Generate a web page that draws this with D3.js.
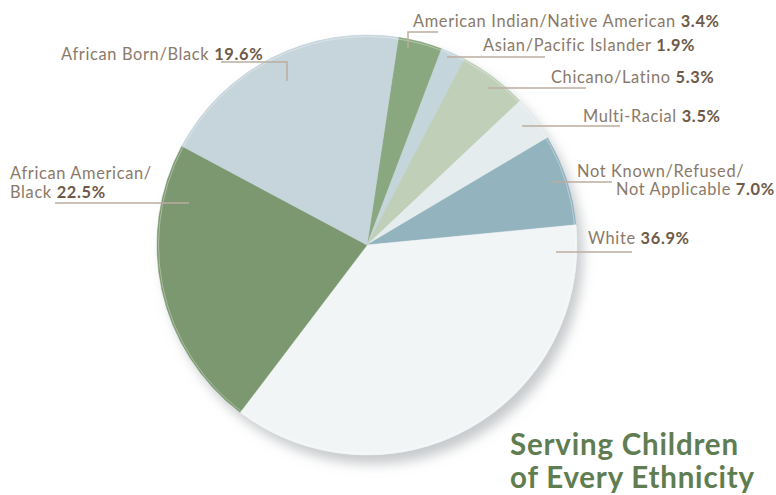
<!DOCTYPE html>
<html>
<head>
<meta charset="utf-8">
<script src="https://cdn.jsdelivr.net/npm/d3@7"></script>
<style>
  body { margin: 0; background: #fff; }
  svg { display: block; }
</style>
</head>
<body>
<svg id="chart"></svg>
<script>
const width = 776
const height = 495

// clockwise from near 12 o'clock
const groups = ["American Indian/Native American", "Asian/Pacific Islander", "Chicano/Latino", "Multi-Racial",
    "Not Known/Refused/Not Applicable", "White", "African American/Black", "African Born/Black"]
const shares = [3.4, 1.9, 5.3, 3.5, 7.0, 36.9, 22.5, 19.6]
const colors = ["#8aa87f", "#c5d5dc", "#bfcfb8", "#e4ecee", "#93b3bf", "#f1f5f6", "#7b9870", "#c6d5dc"]

// label text lines: [normal part, bold part]
const labelLines = [
    [["American Indian/Native American ", "3.4%"]],
    [["Asian/Pacific Islander ", "1.9%"]],
    [["Chicano/Latino ", "5.3%"]],
    [["Multi-Racial ", "3.5%"]],
    [["Not Known/Refused/", ""], ["Not Applicable ", "7.0%"]],
    [["White ", "36.9%"]],
    [["African American/", ""], ["Black ", "22.5%"]],
    [["African Born/Black ", "19.6%"]]
]
// label positions (text anchor + leader line points)
const labelPos = [
    { x: [413], y: [27], line: [[408, 48], [408, 32], [438, 32]] },
    { x: [483], y: [51], line: [[447, 57], [545, 57]] },
    { x: [551], y: [83], line: [[488, 88], [586, 88]] },
    { x: [583], y: [122], line: [[522, 126], [620, 126]] },
    { x: [577, 616], y: [177, 195], line: [[552, 182], [612, 182]] },
    { x: [588], y: [244], line: [[556, 252], [632, 252]] },
    { x: [10, 10], y: [179, 198], line: [[55, 203], [189, 203]] },
    { x: [61], y: [60], line: [[221, 62], [287, 62], [287, 81]] }
]

const cx = 367, cy = 245, r = 210

const svg = d3.select("#chart")
    .attr("width", width)
    .attr("height", height)

const defs = svg.append("defs")
const shadow = defs.append("filter").attr("id", "shadow")
    .attr("x", "-20%").attr("y", "-20%").attr("width", "140%").attr("height", "140%")
shadow.append("feDropShadow")
    .attr("dx", 6).attr("dy", 9)
    .attr("stdDeviation", 6)
    .attr("flood-color", "#9a9ea2")
    .attr("flood-opacity", 0.55)

const pie = d3.pie()
    .sort(null)
    .startAngle(8.6 * Math.PI / 180)
    .endAngle(8.6 * Math.PI / 180 + 2 * Math.PI)
    .value(d => d)

const arc = d3.arc().innerRadius(0).outerRadius(r)

const g = svg.append("g").attr("transform", "translate(" + cx + "," + cy + ")")

g.append("circle")
    .attr("r", r)
    .attr("fill", "#e9eef0")
    .attr("filter", "url(#shadow)")

g.selectAll(".slice")
    .data(pie(shares))
    .enter()
    .append("path")
    .attr("class", "slice")
    .attr("d", arc)
    .attr("fill", (d, i) => colors[i])
    .attr("stroke", (d, i) => colors[i])
    .attr("stroke-width", 0.5)

g.append("circle")
    .attr("r", r - 1.5)
    .attr("fill", "none")
    .attr("stroke", "#ffffff")
    .attr("stroke-opacity", 0.35)
    .attr("stroke-width", 1)

const line = d3.line()
const labels = svg.append("g")

labelPos.forEach(function (p, i) {
    labels.append("path")
        .attr("d", line(p.line))
        .attr("fill", "none")
        .attr("stroke", "#bcad9f")
        .attr("stroke-width", 1.5)
    labelLines[i].forEach(function (parts, j) {
        const t = labels.append("text")
            .attr("x", p.x[j])
            .attr("y", p.y[j])
            .attr("font-family", "Lato, 'Open Sans', sans-serif")
            .attr("font-size", 16.4)
            .attr("letter-spacing", 0.65)
        t.append("tspan").attr("fill", "#8a7969").text(parts[0])
        if (parts[1]) t.append("tspan").attr("fill", "#6e5a47").attr("font-weight", "bold").text(parts[1])
    })
})

const title = ["Serving Children", "of Every Ethnicity"]
svg.selectAll(".title")
    .data(title)
    .enter()
    .append("text")
    .attr("class", "title")
    .attr("x", 510)
    .attr("y", (d, i) => 455 + i * 33)
    .attr("font-family", "Lato, sans-serif")
    .attr("font-weight", "bold")
    .attr("font-size", 29.5)
    .attr("letter-spacing", 0.8)
    .attr("fill", "#5f7d50")
    .text(d => d)
</script>
</body>
</html>
